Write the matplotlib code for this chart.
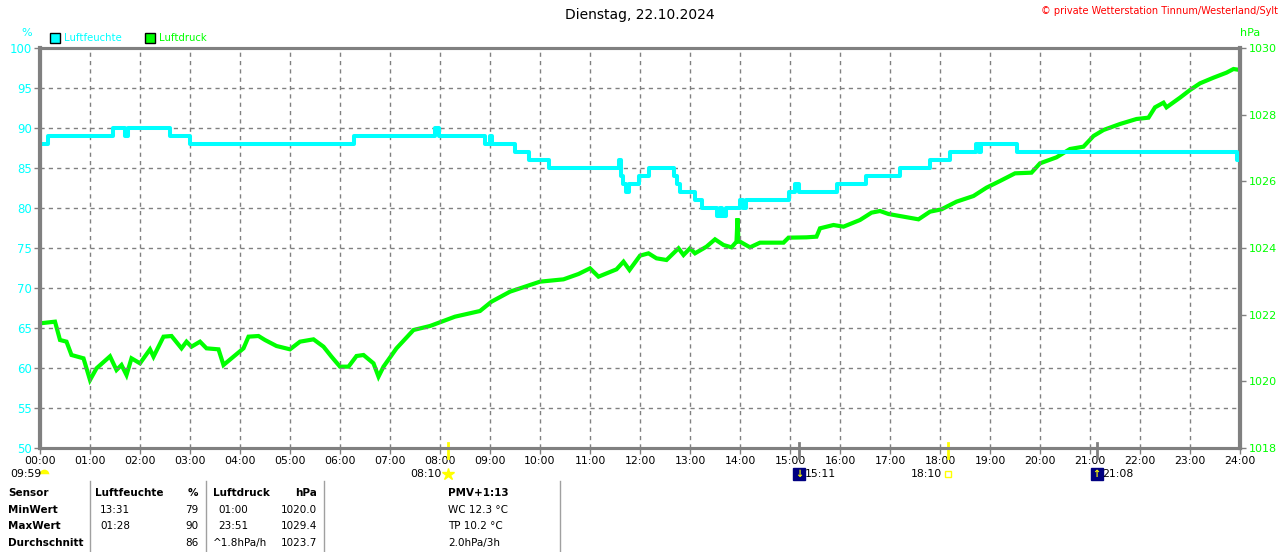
import matplotlib
matplotlib.use("Agg")
import matplotlib.pyplot as plt
from matplotlib.lines import Line2D

# Luftfeuchte (%), Stufen: Beginn der Stufe in Stunden
hum_t = [0.00, 0.16, 1.45, 1.70, 1.76, 2.60, 2.99, 6.27, 7.89, 7.97,
         8.89, 9.00, 9.04, 9.50, 9.77, 10.17, 11.57, 11.62, 11.66, 11.72,
         11.78, 11.97, 12.17, 12.67, 12.73, 12.80, 13.10, 13.15, 13.24, 13.53,
         13.60, 13.64, 13.72, 14.00, 14.05, 14.12, 14.97, 15.00, 15.10, 15.17,
         15.93, 16.52, 17.19, 17.79, 18.19, 18.72, 18.78, 18.83, 19.53, 23.93,
         24.00]
hum_v = [88, 89, 90, 89, 90, 89, 88, 89, 90, 89,
         88, 89, 88, 87, 86, 85, 86, 84, 83, 82,
         83, 84, 85, 84, 83, 82, 81, 81, 80, 79,
         80, 79, 80, 81, 80, 81, 82, 82, 83, 82,
         83, 84, 85, 86, 87, 88, 87, 88, 87, 86,
         86]

# Luftdruck (hPa)
p_t = [0.00, 0.30, 0.40, 0.53, 0.63, 0.87, 1.00, 1.13, 1.40, 1.53,
       1.63, 1.73, 1.83, 2.00, 2.20, 2.27, 2.47, 2.63, 2.83, 2.93,
       3.03, 3.20, 3.33, 3.57, 3.67, 3.87, 4.07, 4.17, 4.37, 4.50,
       4.73, 5.00, 5.20, 5.47, 5.67, 5.83, 6.00, 6.17, 6.33, 6.47,
       6.67, 6.77, 6.87, 7.13, 7.47, 7.80, 8.30, 8.80, 9.03, 9.40,
       9.80, 10.00, 10.47, 10.77, 11.00, 11.17, 11.53, 11.67, 11.79, 12.00,
       12.17, 12.33, 12.53, 12.77, 12.87, 13.00, 13.10, 13.33, 13.50, 13.67,
       13.83, 13.93, 13.95, 13.97, 14.00, 14.20, 14.40, 14.87, 14.97, 15.33,
       15.53, 15.60, 15.87, 16.07, 16.40, 16.63, 16.80, 16.97, 17.27, 17.57,
       17.80, 18.03, 18.33, 18.67, 18.93, 19.20, 19.50, 19.83, 20.00, 20.33,
       20.60, 20.87, 21.07, 21.27, 21.60, 21.93, 22.17, 22.30, 22.47, 22.53,
       22.80, 23.00, 23.20, 23.47, 23.73, 23.87, 24.00]
p_v = [1021.74, 1021.79, 1021.24, 1021.19, 1020.79, 1020.69, 1020.04, 1020.39, 1020.75, 1020.34,
       1020.49, 1020.19, 1020.69, 1020.54, 1020.96, 1020.74, 1021.34, 1021.36, 1020.99, 1021.19,
       1021.04, 1021.19, 1020.99, 1020.96, 1020.49, 1020.74, 1020.99, 1021.34, 1021.36, 1021.24,
       1021.06, 1020.96, 1021.19, 1021.26, 1021.04, 1020.74, 1020.44, 1020.44, 1020.76, 1020.79,
       1020.54, 1020.14, 1020.44, 1020.99, 1021.54, 1021.66, 1021.94, 1022.11, 1022.39, 1022.69,
       1022.89, 1022.99, 1023.06, 1023.22, 1023.39, 1023.14, 1023.36, 1023.59, 1023.34, 1023.77,
       1023.84, 1023.69, 1023.64, 1023.99, 1023.79, 1023.99, 1023.84, 1024.04, 1024.26, 1024.09,
       1024.02, 1024.19, 1024.89, 1024.19, 1024.19, 1024.02, 1024.16, 1024.16, 1024.31, 1024.32,
       1024.34, 1024.59, 1024.69, 1024.64, 1024.84, 1025.06, 1025.11, 1025.02, 1024.94, 1024.86,
       1025.09, 1025.16, 1025.39, 1025.56, 1025.81, 1026.01, 1026.24, 1026.26, 1026.54, 1026.72,
       1026.97, 1027.04, 1027.36, 1027.54, 1027.72, 1027.87, 1027.91, 1028.22, 1028.36, 1028.22,
       1028.51, 1028.74, 1028.94, 1029.11, 1029.26, 1029.37, 1029.34]

hours = list(range(25))
hour_labels = [f"{h:02d}:00" for h in hours]
hum_ticks = list(range(50, 101, 5))
p_ticks = list(range(1018, 1031, 2))

# Sonne / Mond Ereignisse (Stunde, Text)
sun_rise = (8 + 10 / 60, "08:10")
sun_set = (18 + 10 / 60, "18:10")
moon_set = (15 + 11 / 60, "15:11")
moon_rise = (21 + 8 / 60, "21:08")

# Tabelle unten
tab_rows = ["Sensor", "MinWert", "MaxWert", "Durchschnitt"]
hum_times = ["", "13:31", "01:28", ""]
hum_vals = ["%", "79", "90", "86"]
p_times = ["Luftdruck", "01:00", "23:51", "^1.8hPa/h"]
p_vals = ["hPa", "1020.0", "1029.4", "1023.7"]
extra = ["PMV+1:13", "WC 12.3 °C", "TP 10.2 °C", "2.0hPa/3h"]

CYAN = "#00ffff"
GREEN = "#00ff00"
GRAY = "#808080"
FS = 7.8

W, H = 1280, 552
fig = plt.figure(figsize=(W / 100, H / 100), dpi=100)


def fx(px):
    return px / W


def fy(py):
    return 1 - py / H


ax = fig.add_axes([fx(40), fy(448), 1200 / W, 400 / H])
ax2 = ax.twinx()
ax.set_zorder(ax2.get_zorder() + 1)
ax.patch.set_visible(False)

ax2.plot(p_t, p_v, color=GREEN, lw=3.0, solid_joinstyle="miter")
ax.plot(hum_t, hum_v, color=CYAN, lw=2.9, drawstyle="steps-post")

ax.set_xlim(0, 24)
ax.set_ylim(50, 100)
ax2.set_ylim(1018, 1030)

ax.set_xticks(hours)
ax.set_xticklabels(hour_labels, fontsize=FS)
ax.set_yticks(hum_ticks)
ax.set_yticklabels([str(v) for v in hum_ticks], fontsize=8.5, color=CYAN)
ax2.set_yticks(p_ticks)
ax2.set_yticklabels([str(v) for v in p_ticks], fontsize=8, color=GREEN)

ax.tick_params(axis="both", length=4, width=1, color=GRAY, pad=2)
ax2.tick_params(axis="y", length=4, width=1, color=GRAY, pad=2)

ax.grid(True, color=GRAY, ls=(0, (3, 3)), lw=1)
for a in (ax, ax2):
    for side in ("left", "right", "top", "bottom"):
        a.spines[side].set_color(GRAY)
        a.spines[side].set_linewidth(2.2)
ax2.spines["right"].set_linewidth(3)
ax.spines["left"].set_linewidth(3)

# Titel, Copyright, Legende
fig.text(0.5, fy(15), "Dienstag, 22.10.2024", ha="center", va="center", fontsize=10)
fig.text(fx(1278), fy(11), "© private Wetterstation Tinnum/Westerland/Sylt",
         ha="right", va="center", fontsize=7, color="red")
fig.text(fx(27), fy(33), "%", ha="center", va="center", fontsize=8, color=CYAN)
fig.text(fx(1250), fy(33), "hPa", ha="center", va="center", fontsize=8, color=GREEN)
for x0, col, lab in [(50, CYAN, "Luftfeuchte"), (145, GREEN, "Luftdruck")]:
    fig.patches.append(plt.Rectangle((fx(x0), fy(43)), 10 / W, 10 / H,
                                     transform=fig.transFigure, facecolor=col,
                                     edgecolor="black", lw=1))
    fig.text(fx(x0 + 14), fy(38), lab, ha="left", va="center", fontsize=7.3, color=col)

# Sonne und Mond unter der Achse
tr = ax.get_xaxis_transform()
ylab = -0.066
for t, col in [(sun_rise[0], "#ffff00"), (sun_set[0], "#ffff00"),
               (moon_set[0], GRAY), (moon_rise[0], GRAY)]:
    ax.plot([t, t], [-0.025, 0.012], color=col, lw=2, transform=tr, clip_on=False)

ax.text(-0.6, ylab, "09:59", transform=tr, ha="left", va="center", fontsize=FS)
ax.plot([0.08], [ylab], marker="o", ms=7, fillstyle="top", color="#ffff00",
        markerfacecoloralt="white", mec="none", transform=tr, clip_on=False)
ax.text(sun_rise[0] - 0.13, ylab, sun_rise[1], transform=tr, ha="right", va="center", fontsize=FS)
ax.plot([sun_rise[0]], [ylab], marker="*", ms=9, color="#ffff00", transform=tr, clip_on=False)
ax.text(sun_set[0] - 0.13, ylab, sun_set[1], transform=tr, ha="right", va="center", fontsize=FS)
ax.plot([sun_set[0]], [ylab], marker="s", ms=4, mfc="white", mec="#ffff00", transform=tr,
        clip_on=False)
for t, lab, arrow in [(moon_set[0], moon_set[1], "↓"), (moon_rise[0], moon_rise[1], "↑")]:
    ax.plot([t], [ylab], marker="s", ms=8, color="#000080", transform=tr, clip_on=False)
    ax.text(t, ylab, arrow, transform=tr, ha="center", va="center", fontsize=7,
            color="#ffff00", fontweight="bold")
    ax.text(t + 0.12, ylab, lab, transform=tr, ha="left", va="center", fontsize=FS)

# Tabelle
for xl in (90, 206, 324, 560):
    fig.add_artist(Line2D([fx(xl), fx(xl)], [fy(481), fy(552)], color="#a0a0a0", lw=1))
row_y = [493, 510, 526, 543]
for i, y in enumerate(row_y):
    bold = "bold" if i == 0 else "normal"
    fig.text(fx(8), fy(y), tab_rows[i], ha="left", va="center", fontsize=7.5, fontweight="bold")
    if i == 0:
        fig.text(fx(95), fy(y), "Luftfeuchte", ha="left", va="center", fontsize=7.5,
                 fontweight="bold")
    else:
        fig.text(fx(100), fy(y), hum_times[i], ha="left", va="center", fontsize=7.5)
    fig.text(fx(198), fy(y), hum_vals[i], ha="right", va="center", fontsize=7.5, fontweight=bold)
    px_ = 213 if i in (0, 3) else 218
    fig.text(fx(px_), fy(y), p_times[i], ha="left", va="center", fontsize=7.5, fontweight=bold)
    fig.text(fx(317), fy(y), p_vals[i], ha="right", va="center", fontsize=7.5, fontweight=bold)
    fig.text(fx(448), fy(y), extra[i], ha="left", va="center", fontsize=7.5, fontweight=bold)

fig.savefig("out.png", dpi=100)
